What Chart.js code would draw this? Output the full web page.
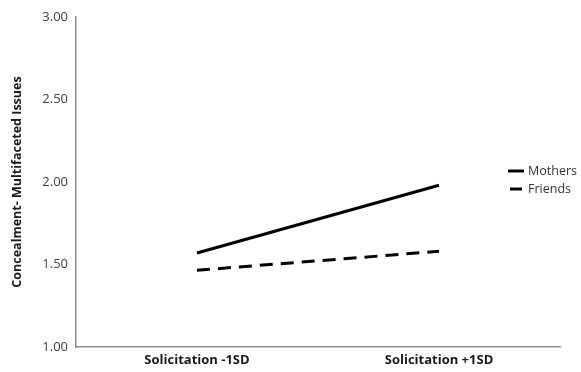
<!doctype html>
<html lang="en">
<head>
<meta charset="utf-8">
<title>Chart</title>
<script src="https://cdn.jsdelivr.net/npm/chart.js@4.4.1/dist/chart.umd.min.js"></script>
<style>
  html, body { margin: 0; padding: 0; background: #fff; }
  #wrap { width: 581px; height: 372px; }
</style>
</head>
<body>
<div id="wrap"><canvas id="myChart" width="581" height="372"></canvas></div>
<script>
const categories = ['Solicitation -1SD', 'Solicitation +1SD'];
const mothers = [1.57, 1.98];
const friends = [1.465, 1.58];
const yTicks = [1.00, 1.50, 2.00, 2.50, 3.00];

const FONT = "'Open Sans', 'Liberation Sans', sans-serif";

// legend drawn inside the plot on the right, like the original
const sideLegend = {
  id: 'sideLegend',
  afterDraw(chart) {
    const ctx = chart.ctx;
    ctx.save();
    ctx.font = '12.5px ' + FONT;
    ctx.textBaseline = 'middle';
    chart.data.datasets.forEach((ds, i) => {
      const y = 171 + i * 18;
      ctx.strokeStyle = ds.borderColor;
      ctx.lineWidth = 3;
      ctx.beginPath();
      ctx.moveTo(i === 0 ? 508 : 510, y);
      ctx.lineTo(i === 0 ? 524 : 522, y);
      ctx.stroke();
      ctx.fillStyle = '#333';
      ctx.fillText(ds.label, 528, y);
    });
    ctx.restore();
  }
};

new Chart(document.getElementById('myChart'), {
  type: 'line',
  data: {
    labels: categories,
    datasets: [
      { label: 'Mothers', data: mothers, borderColor: '#000', borderWidth: 3, pointRadius: 0, tension: 0 },
      { label: 'Friends', data: friends, borderColor: '#000', borderWidth: 3, borderDash: [13, 8], pointRadius: 0, tension: 0 }
    ]
  },
  options: {
    responsive: false,
    animation: false,
    layout: { padding: { top: 17, right: 21, left: 0, bottom: 0 } },
    plugins: { legend: { display: false }, tooltip: { enabled: false } },
    scales: {
      x: {
        offset: true,
        grid: { display: false, drawTicks: false },
        border: { color: '#8c8c8c', width: 1.5 },
        ticks: { color: '#1a1a1a', padding: 5, font: { family: FONT, size: 13, weight: 'bold' } },
        afterFit(s) { s.height = 25; }
      },
      y: {
        min: 1, max: 3,
        afterBuildTicks(s) { s.ticks = yTicks.map(v => ({ value: v })); },
        grid: { display: false, drawTicks: false },
        border: { color: '#8c8c8c', width: 1.5 },
        ticks: { color: '#404040', padding: 8, font: { family: FONT, size: 13 }, callback: v => v.toFixed(2) },
        title: { display: true, text: 'Concealment- Multifaceted Issues', color: '#1a1a1a', padding: { top: 10, bottom: 0 }, font: { family: FONT, size: 12.5, weight: 'bold' } },
        afterFit(s) { s.width = 76; }
      }
    }
  },
  plugins: [sideLegend]
});
</script>
</body>
</html>
